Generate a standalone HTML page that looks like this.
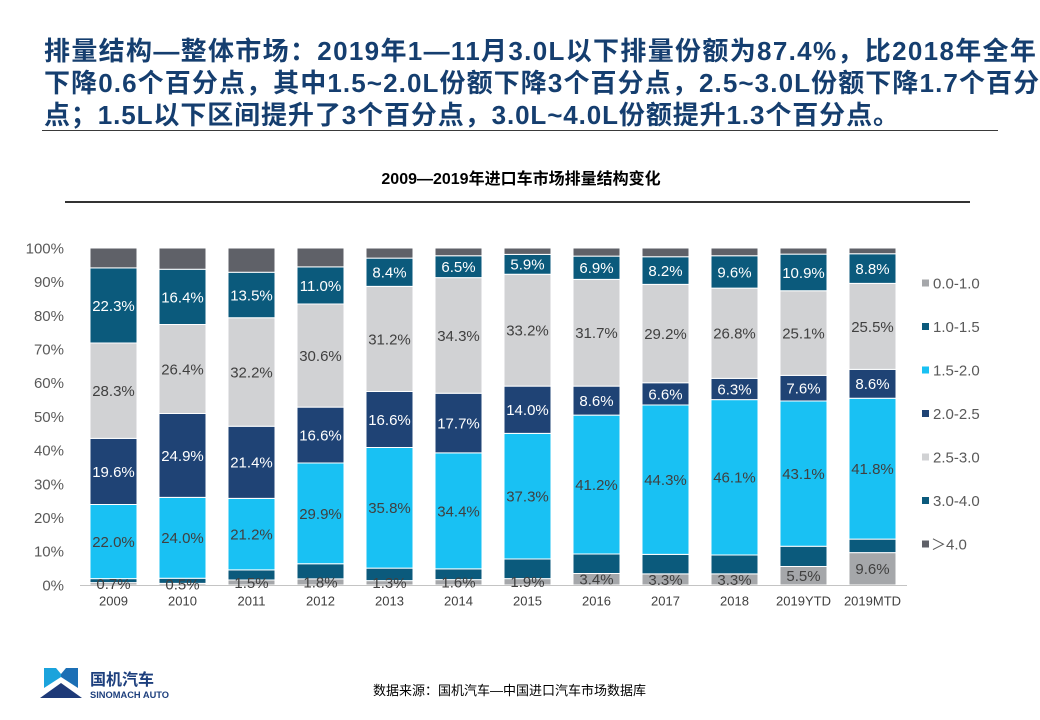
<!DOCTYPE html>
<html><head><meta charset="utf-8"><style>
html,body{margin:0;padding:0;background:#fff;}
body{width:1040px;height:720px;position:relative;overflow:hidden;font-family:"Liberation Sans","Noto Sans CJK SC",sans-serif;}
.tl{position:absolute;left:44px;height:32px;line-height:32px;font-size:26px;font-weight:bold;color:#153e6f;white-space:nowrap;letter-spacing:1.1px;font-family:"Liberation Sans","Noto Sans CJK SC",sans-serif;}
svg text{font-family:"Liberation Sans","Noto Sans CJK SC",sans-serif;}
.a{fill:#a5a7aa}.b{fill:#0b5a7c}.c{fill:#19c1f3}.d{fill:#1f4375}.e{fill:#d1d2d4}.f{fill:#0b5a7c}.g{fill:#5f6168}
.bars rect{stroke:#fff;stroke-width:1;vector-effect:non-scaling-stroke;}
.lb text{font-size:15px;text-anchor:middle;fill:#404040;}
.lb text.w{fill:#fff;}
</style></head><body>
<div class="tl" style="top:35px;letter-spacing:1.33px;">排量结构—整体市场：2019年1—11月3.0L以下排量份额为87.4%，比2018年全年</div>
<div class="tl" style="top:67px;">下降0.6个百分点，其中1.5~2.0L份额下降3个百分点，2.5~3.0L份额下降1.7个百分</div>
<div class="tl" style="top:99px;letter-spacing:0.9px;">点；1.5L以下区间提升了3个百分点，3.0L~4.0L份额提升1.3个百分点。</div>
<div style="position:absolute;left:42px;top:130px;width:956px;height:1px;background:#3a3a3a;"></div>

<svg width="1040" height="720" style="position:absolute;left:0;top:0;" xmlns="http://www.w3.org/2000/svg">
<text x="521" y="184" text-anchor="middle" font-size="16" font-weight="bold" fill="#000">2009—2019年进口车市场排量结构变化</text>
<rect x="65" y="201" width="905" height="2" fill="#333"/>

<g font-size="15" fill="#595959" text-anchor="end">
<text x="64" y="590.4">0%</text>
<text x="64" y="556.7">10%</text>
<text x="64" y="523">20%</text>
<text x="64" y="489.3">30%</text>
<text x="64" y="455.6">40%</text>
<text x="64" y="421.9">50%</text>
<text x="64" y="388.2">60%</text>
<text x="64" y="354.5">70%</text>
<text x="64" y="320.8">80%</text>
<text x="64" y="287.1">90%</text>
<text x="64" y="253.4">100%</text>
</g>

<g class="bars" transform="translate(0,585) scale(1,-3.37)">
<g transform="translate(90,0)"><rect width="47" y="0" height="0.7" class="a"/><rect width="47" y="0.7" height="1.2" class="b"/><rect width="47" y="1.9" height="22.0" class="c"/><rect width="47" y="23.9" height="19.6" class="d"/><rect width="47" y="43.5" height="28.3" class="e"/><rect width="47" y="71.8" height="22.3" class="f"/><rect width="47" y="94.1" height="5.9" class="g"/></g>
<g transform="translate(159,0)"><rect width="47" y="0" height="0.5" class="a"/><rect width="47" y="0.5" height="1.5" class="b"/><rect width="47" y="2.0" height="24.0" class="c"/><rect width="47" y="26.0" height="24.9" class="d"/><rect width="47" y="50.9" height="26.4" class="e"/><rect width="47" y="77.3" height="16.4" class="f"/><rect width="47" y="93.7" height="6.3" class="g"/></g>
<g transform="translate(228,0)"><rect width="47" y="0" height="1.5" class="a"/><rect width="47" y="1.5" height="3.0" class="b"/><rect width="47" y="4.5" height="21.2" class="c"/><rect width="47" y="25.7" height="21.4" class="d"/><rect width="47" y="47.1" height="32.2" class="e"/><rect width="47" y="79.3" height="13.5" class="f"/><rect width="47" y="92.8" height="7.2" class="g"/></g>
<g transform="translate(297,0)"><rect width="47" y="0" height="1.8" class="a"/><rect width="47" y="1.8" height="4.5" class="b"/><rect width="47" y="6.3" height="29.9" class="c"/><rect width="47" y="36.2" height="16.6" class="d"/><rect width="47" y="52.8" height="30.6" class="e"/><rect width="47" y="83.4" height="11.0" class="f"/><rect width="47" y="94.4" height="5.6" class="g"/></g>
<g transform="translate(366,0)"><rect width="47" y="0" height="1.3" class="a"/><rect width="47" y="1.3" height="3.7" class="b"/><rect width="47" y="5.0" height="35.8" class="c"/><rect width="47" y="40.8" height="16.6" class="d"/><rect width="47" y="57.4" height="31.2" class="e"/><rect width="47" y="88.6" height="8.4" class="f"/><rect width="47" y="97.0" height="3.0" class="g"/></g>
<g transform="translate(435,0)"><rect width="47" y="0" height="1.6" class="a"/><rect width="47" y="1.6" height="3.2" class="b"/><rect width="47" y="4.8" height="34.4" class="c"/><rect width="47" y="39.2" height="17.7" class="d"/><rect width="47" y="56.9" height="34.3" class="e"/><rect width="47" y="91.2" height="6.5" class="f"/><rect width="47" y="97.7" height="2.3" class="g"/></g>
<g transform="translate(504,0)"><rect width="47" y="0" height="1.9" class="a"/><rect width="47" y="1.9" height="5.8" class="b"/><rect width="47" y="7.7" height="37.3" class="c"/><rect width="47" y="45.0" height="14.0" class="d"/><rect width="47" y="59.0" height="33.2" class="e"/><rect width="47" y="92.2" height="5.9" class="f"/><rect width="47" y="98.1" height="1.9" class="g"/></g>
<g transform="translate(573,0)"><rect width="47" y="0" height="3.4" class="a"/><rect width="47" y="3.4" height="5.8" class="b"/><rect width="47" y="9.2" height="41.2" class="c"/><rect width="47" y="50.4" height="8.6" class="d"/><rect width="47" y="59.0" height="31.7" class="e"/><rect width="47" y="90.7" height="6.9" class="f"/><rect width="47" y="97.6" height="2.4" class="g"/></g>
<g transform="translate(642,0)"><rect width="47" y="0" height="3.3" class="a"/><rect width="47" y="3.3" height="5.8" class="b"/><rect width="47" y="9.1" height="44.3" class="c"/><rect width="47" y="53.4" height="6.6" class="d"/><rect width="47" y="60.0" height="29.2" class="e"/><rect width="47" y="89.2" height="8.2" class="f"/><rect width="47" y="97.4" height="2.6" class="g"/></g>
<g transform="translate(711,0)"><rect width="47" y="0" height="3.3" class="a"/><rect width="47" y="3.3" height="5.6" class="b"/><rect width="47" y="8.9" height="46.1" class="c"/><rect width="47" y="55.0" height="6.3" class="d"/><rect width="47" y="61.3" height="26.8" class="e"/><rect width="47" y="88.1" height="9.6" class="f"/><rect width="47" y="97.7" height="2.3" class="g"/></g>
<g transform="translate(780,0)"><rect width="47" y="0" height="5.5" class="a"/><rect width="47" y="5.5" height="6.0" class="b"/><rect width="47" y="11.5" height="43.1" class="c"/><rect width="47" y="54.6" height="7.6" class="d"/><rect width="47" y="62.2" height="25.1" class="e"/><rect width="47" y="87.3" height="10.9" class="f"/><rect width="47" y="98.2" height="1.8" class="g"/></g>
<g transform="translate(849,0)"><rect width="47" y="0" height="9.6" class="a"/><rect width="47" y="9.6" height="4.0" class="b"/><rect width="47" y="13.6" height="41.8" class="c"/><rect width="47" y="55.4" height="8.6" class="d"/><rect width="47" y="64.0" height="25.5" class="e"/><rect width="47" y="89.5" height="8.8" class="f"/><rect width="47" y="98.3" height="1.7" class="g"/></g>
</g>

<rect x="80" y="585" width="827" height="1" fill="#c4c4c4"/>

<g class="lb">
<text x="113.5" y="589">0.7%</text><text x="113.5" y="547">22.0%</text><text class="w" x="113.5" y="476.8">19.6%</text><text x="113.5" y="396.1">28.3%</text><text class="w" x="113.5" y="310.9">22.3%</text>
<text x="182.5" y="589.5">0.5%</text><text x="182.5" y="543.2">24.0%</text><text class="w" x="182.5" y="460.8">24.9%</text><text x="182.5" y="374.4">26.4%</text><text class="w" x="182.5" y="302.3">16.4%</text>
<text x="251.5" y="587.9">1.5%</text><text x="251.5" y="539.5">21.2%</text><text class="w" x="251.5" y="467.7">21.4%</text><text x="251.5" y="377.4">32.2%</text><text class="w" x="251.5" y="300.4">13.5%</text>
<text x="320.5" y="587.4">1.8%</text><text x="320.5" y="518.8">29.9%</text><text class="w" x="320.5" y="440.4">16.6%</text><text x="320.5" y="360.9">30.6%</text><text class="w" x="320.5" y="290.8">11.0%</text>
<text x="389.5" y="588.2">1.3%</text><text x="389.5" y="513.2">35.8%</text><text class="w" x="389.5" y="424.9">16.6%</text><text x="389.5" y="344.4">31.2%</text><text class="w" x="389.5" y="277.7">8.4%</text>
<text x="458.5" y="587.7">1.6%</text><text x="458.5" y="516.3">34.4%</text><text class="w" x="458.5" y="428.5">17.7%</text><text x="458.5" y="340.9">34.3%</text><text class="w" x="458.5" y="272.1">6.5%</text>
<text x="527.5" y="587.2">1.9%</text><text x="527.5" y="501.6">37.3%</text><text class="w" x="527.5" y="415.2">14.0%</text><text x="527.5" y="335.6">33.2%</text><text class="w" x="527.5" y="269.7">5.9%</text>
<text x="596.5" y="584.7">3.4%</text><text x="596.5" y="490">41.2%</text><text class="w" x="596.5" y="406.1">8.6%</text><text x="596.5" y="338.2">31.7%</text><text class="w" x="596.5" y="273.1">6.9%</text>
<text x="665.5" y="584.8">3.3%</text><text x="665.5" y="485.1">44.3%</text><text class="w" x="665.5" y="399.3">6.6%</text><text x="665.5" y="339">29.2%</text><text class="w" x="665.5" y="276">8.2%</text>
<text x="734.5" y="584.8">3.3%</text><text x="734.5" y="482.7">46.1%</text><text class="w" x="734.5" y="394.4">6.3%</text><text x="734.5" y="338.7">26.8%</text><text class="w" x="734.5" y="277.3">9.6%</text>
<text x="803.5" y="581.1">5.5%</text><text x="803.5" y="479">43.1%</text><text class="w" x="803.5" y="393.6">7.6%</text><text x="803.5" y="338.5">25.1%</text><text class="w" x="803.5" y="277.8">10.9%</text>
<text x="872.5" y="574.2">9.6%</text><text x="872.5" y="474.1">41.8%</text><text class="w" x="872.5" y="389.2">8.6%</text><text x="872.5" y="331.8">25.5%</text><text class="w" x="872.5" y="274">8.8%</text>
</g>

<g font-size="13" fill="#404040" text-anchor="middle">
<text x="113.5" y="605.6">2009</text><text x="182.5" y="605.6">2010</text><text x="251.5" y="605.6">2011</text><text x="320.5" y="605.6">2012</text>
<text x="389.5" y="605.6">2013</text><text x="458.5" y="605.6">2014</text><text x="527.5" y="605.6">2015</text><text x="596.5" y="605.6">2016</text>
<text x="665.5" y="605.6">2017</text><text x="734.5" y="605.6">2018</text><text x="803.5" y="605.6">2019YTD</text><text x="872.5" y="605.6">2019MTD</text>
</g>

<g font-size="15" fill="#595959">
<rect x="922" y="279.5" width="7" height="7" class="a"/><text x="933" y="288.4">0.0-1.0</text>
<rect x="922" y="323" width="7" height="7" class="b"/><text x="933" y="331.9">1.0-1.5</text>
<rect x="922" y="366.5" width="7" height="7" class="c"/><text x="933" y="375.4">1.5-2.0</text>
<rect x="922" y="410" width="7" height="7" class="d"/><text x="933" y="418.9">2.0-2.5</text>
<rect x="922" y="453.5" width="7" height="7" class="e"/><text x="933" y="462.4">2.5-3.0</text>
<rect x="922" y="497" width="7" height="7" class="f"/><text x="933" y="505.9">3.0-4.0</text>
<rect x="922" y="540.5" width="7" height="7" class="g"/><text x="931" y="549.4">＞4.0</text>
</g>

<g>
<polygon points="44,668 56,668 61,674 61,677 44,688" fill="#1ba3dc"/>
<polygon points="61,674 66,668 78,668 78,688 61,677" fill="#1c6fb5"/>
<polygon points="40,698 61,683 82,698" fill="#1e3a78"/>
</g>
<text x="90" y="685" font-size="16" font-weight="bold" fill="#1d3f7d">国机汽车</text>
<text x="90" y="698" font-size="9.3" font-weight="bold" fill="#1d3f7d">SINOMACH AUTO</text>
<text x="373" y="695" font-size="13" fill="#000">数据来源：国机汽车—中国进口汽车市场数据库</text>
</svg>
</body></html>
